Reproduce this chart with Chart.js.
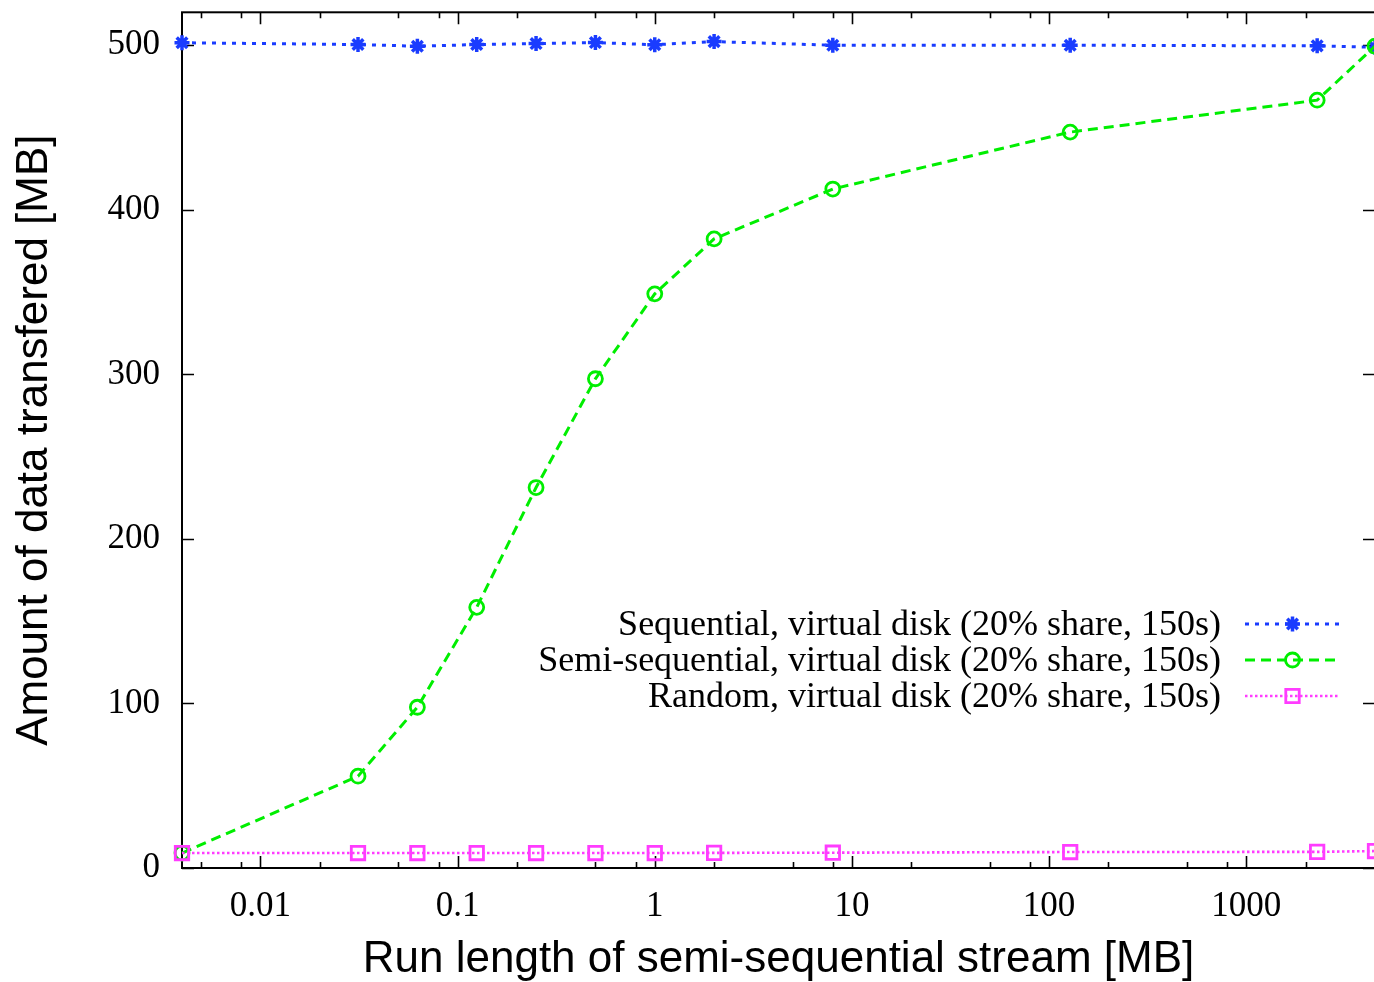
<!DOCTYPE html>
<html>
<head>
<meta charset="utf-8">
<script src="https://cdn.jsdelivr.net/npm/chart.js@4.4.0/dist/chart.umd.min.js"></script>
<style>
  html, body { margin: 0; padding: 0; background: #fff; overflow: hidden; }
</style>
</head>
<body>
<canvas id="myChart" width="1400" height="982"></canvas>
<script>
// Run length [MB] (eje x, logaritmico)
var runLength = [0.004, 0.03125, 0.0625, 0.125, 0.25, 0.5, 1, 2, 8, 128, 2290, 4500];

// Amount of data transfered [MB]
var sequential     = [501.5, 500.4, 499.4, 500.4, 501.0, 501.6, 500.3, 502.2, 500.0, 500.0, 499.6, 498.8];
var semiSequential = [9.1, 55.8, 97.7, 158.4, 231.2, 297.3, 348.9, 382.3, 412.6, 447.2, 466.6, 499.4];
var randomAccess   = [9.1, 9.1, 9.1, 9.1, 9.1, 9.1, 9.1, 9.2, 9.3, 9.7, 9.8, 10.3];

var seriesNames = [
  'Sequential, virtual disk (20% share, 150s)',
  'Semi-sequential, virtual disk (20% share, 150s)',
  'Random, virtual disk (20% share, 150s)'
];

// Ticks
var xTicks = [0.01, 0.1, 1, 10, 100, 1000];
var xMinorTicks = [0.005, 0.008, 0.02, 0.05, 0.08, 0.2, 0.5, 0.8, 2, 5, 8,
                   20, 50, 80, 200, 500, 800, 2000];
var yTicks = [0, 100, 200, 300, 400, 500];

var serif = '"Liberation Serif", "Times New Roman", serif';
var sans = '"Liberation Sans", Arial, sans-serif';

function toPoints(ys) {
  return runLength.map(function (x, i) { return { x: x, y: ys[i] }; });
}

// Marco, ticks hacia adentro y espejados (estilo gnuplot)
var frame = {
  id: 'frame',
  beforeDatasetsDraw: function (chart) {
    var ctx = chart.ctx, a = chart.chartArea;
    var xs = chart.scales.x, ys = chart.scales.y;
    ctx.save();
    ctx.strokeStyle = '#000';
    ctx.lineWidth = 1.6;
    ctx.beginPath();
    xTicks.forEach(function (v) {
      var px = Math.round(xs.getPixelForValue(v)) + 0.5;
      ctx.moveTo(px, a.bottom); ctx.lineTo(px, a.bottom - 12);
      ctx.moveTo(px, a.top); ctx.lineTo(px, a.top + 12);
    });
    xMinorTicks.forEach(function (v) {
      var px = Math.round(xs.getPixelForValue(v)) + 0.5;
      ctx.moveTo(px, a.bottom); ctx.lineTo(px, a.bottom - 6);
      ctx.moveTo(px, a.top); ctx.lineTo(px, a.top + 6);
    });
    yTicks.forEach(function (v) {
      var py = Math.round(ys.getPixelForValue(v)) + 0.5;
      ctx.moveTo(a.left, py); ctx.lineTo(a.left + 12, py);
      ctx.moveTo(a.right, py); ctx.lineTo(a.right - 12, py);
    });
    ctx.stroke();
    ctx.lineWidth = 2;
    ctx.strokeRect(a.left, a.top, a.right - a.left, a.bottom - a.top);
    ctx.restore();
  }
};

// Leyenda dentro del grafico
var insideLegend = {
  id: 'insideLegend',
  afterDatasetsDraw: function (chart) {
    var ctx = chart.ctx, a = chart.chartArea;
    var textRight = a.right - 154;
    var lineStart = a.right - 130, lineEnd = a.right - 35;
    ctx.save();
    seriesNames.forEach(function (name, i) {
      var ds = chart.data.datasets[i];
      var y = 624 + i * 36;
      ctx.font = '36px ' + serif;
      ctx.fillStyle = '#000';
      ctx.textAlign = 'right';
      ctx.textBaseline = 'middle';
      ctx.fillText(name, textRight, y + 2);
      ctx.save();
      ctx.strokeStyle = ds.borderColor;
      ctx.lineWidth = ds.borderWidth;
      ctx.setLineDash(ds.borderDash);
      ctx.beginPath();
      ctx.moveTo(lineStart, y);
      ctx.lineTo(lineEnd, y);
      ctx.stroke();
      ctx.restore();
      if (Chart.helpers && Chart.helpers.drawPoint) {
        ctx.save();
        ctx.strokeStyle = ds.pointBorderColor;
        ctx.fillStyle = 'rgba(0,0,0,0)';
        ctx.lineWidth = ds.pointBorderWidth;
        Chart.helpers.drawPoint(ctx, {
          pointStyle: ds.pointStyle, radius: ds.pointRadius, rotation: 0, borderWidth: ds.pointBorderWidth
        }, (lineStart + lineEnd) / 2, y);
        ctx.restore();
      }
    });
    ctx.restore();
  }
};

var ctx = document.getElementById('myChart').getContext('2d');

var data = {
  datasets: [{
    label: seriesNames[0],
    data: toPoints(sequential),
    borderColor: '#1a3cff',
    borderWidth: 3,
    borderDash: [4, 6],
    pointStyle: 'star',
    pointRadius: 7.5,
    pointBorderWidth: 3.5,
    pointBorderColor: '#1a3cff',
    pointBackgroundColor: 'rgba(0,0,0,0)',
    order: 2,
    clip: false
  }, {
    label: seriesNames[1],
    data: toPoints(semiSequential),
    borderColor: '#00ee00',
    borderWidth: 3,
    borderDash: [10, 6],
    pointStyle: 'circle',
    pointRadius: 7,
    pointBorderWidth: 2.8,
    pointBorderColor: '#00ee00',
    pointBackgroundColor: 'rgba(0,0,0,0)',
    order: 1,
    clip: false
  }, {
    label: seriesNames[2],
    data: toPoints(randomAccess),
    borderColor: '#ff3cff',
    borderWidth: 2.6,
    borderDash: [2.5, 2.5],
    pointStyle: 'rect',
    pointRadius: 9.5,
    pointBorderWidth: 2.8,
    pointBorderColor: '#ff3cff',
    pointBackgroundColor: 'rgba(0,0,0,0)',
    order: 0,
    clip: false
  }]
};

var options = {
  responsive: false,
  animation: false,
  layout: { padding: { left: 0, top: 11, right: 25, bottom: 0 } },
  plugins: { legend: { display: false }, tooltip: { enabled: false } },
  scales: {
    x: {
      type: 'logarithmic',
      min: 0.004,
      max: 4500,
      grid: { display: false, drawTicks: false },
      border: { display: false },
      afterBuildTicks: function (scale) {
        scale.ticks = xTicks.map(function (v) { return { value: v }; });
      },
      afterFit: function (scale) {
        scale.height = 114;
        scale.paddingLeft = 0; scale.paddingRight = 0;
      },
      ticks: {
        autoSkip: false,
        maxRotation: 0,
        padding: 18,
        color: '#000',
        font: { family: serif, size: 35 },
        callback: function (v) { return String(v); }
      },
      title: {
        display: true,
        text: 'Run length of semi-sequential stream [MB]',
        color: '#000',
        font: { family: sans, size: 44 },
        padding: { top: 0, bottom: -4 }
      }
    },
    y: {
      min: 0,
      max: 520,
      grid: { display: false, drawTicks: false },
      border: { display: false },
      afterBuildTicks: function (scale) {
        scale.ticks = yTicks.map(function (v) { return { value: v }; });
      },
      afterFit: function (scale) {
        scale.width = 182;
        scale.paddingTop = 0; scale.paddingBottom = 0;
      },
      ticks: {
        padding: 22,
        color: '#000',
        font: { family: serif, size: 35 }
      },
      title: {
        display: true,
        text: 'Amount of data transfered [MB]',
        color: '#000',
        font: { family: sans, size: 44 },
        padding: { top: 8, bottom: 0 }
      }
    }
  }
};

var myChart = new Chart(ctx, {
  type: 'line',
  data: data,
  options: options,
  plugins: [frame, insideLegend]
});
</script>
</body>
</html>
